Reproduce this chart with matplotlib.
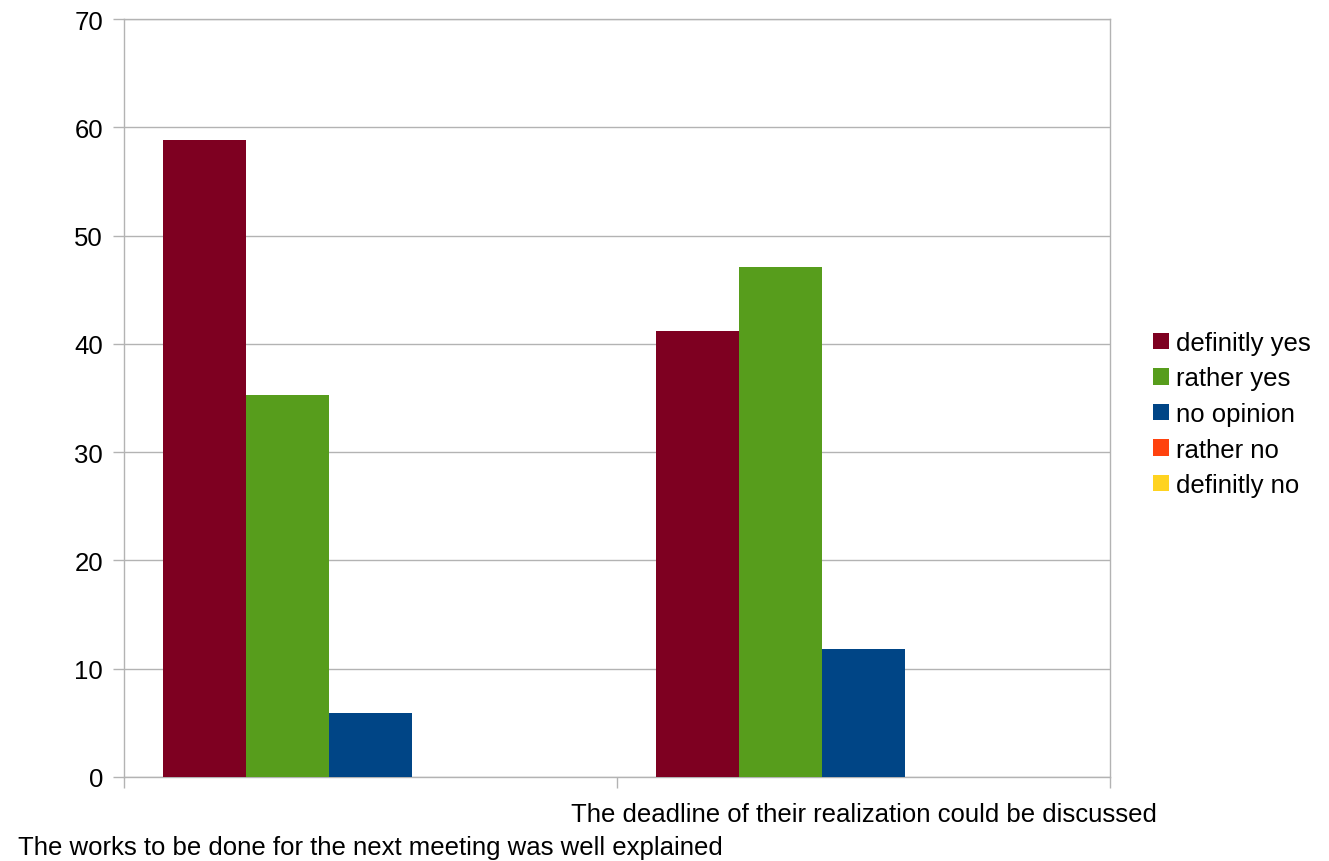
import matplotlib
matplotlib.use("Agg")
import matplotlib.pyplot as plt
import matplotlib.transforms as mtransforms
from matplotlib.patches import Patch
import numpy as np

plt.rcParams['font.family'] = ['Liberation Sans', 'DejaVu Sans']

# Survey answers (percent of respondents)
categories = [
    "The works to be done for the next meeting was well explained",
    "The deadline of their realization could be discussed",
]
series_names = ["definitly yes", "rather yes", "no opinion", "rather no", "definitly no"]
values = {
    "definitly yes": [58.8, 41.2],
    "rather yes": [35.3, 47.1],
    "no opinion": [5.9, 11.8],
    "rather no": [0, 0],
    "definitly no": [0, 0],
}
colors = ["#7E0021", "#579D1C", "#004586", "#FF420E", "#FFD320"]
y_ticks = [0, 10, 20, 30, 40, 50, 60, 70]

fig = plt.figure(figsize=(13.29, 8.62), dpi=100)
ax = fig.add_axes([124 / 1329, 1 - 778 / 862, (1110 - 124) / 1329, (778 - 20) / 862])

x = np.arange(len(categories))
width = 0.168
for i, name in enumerate(series_names):
    ax.bar(x + (i - 2) * width, values[name], width, color=colors[i], zorder=3)

ax.set_xlim(-0.5, len(categories) - 0.5)
ax.set_ylim(0, 70)
ax.set_yticks(y_ticks)
ax.yaxis.grid(True, color="#b3b3b3", lw=1, zorder=0)

grey = "#b3b3b3"
for s in ax.spines.values():
    s.set_color(grey)
    s.set_linewidth(1)

ax.tick_params(axis="y", length=8, width=1, color=grey, labelsize=18.5, pad=7)

# category labels, staggered like the original
ax.set_xticks(x)
ax.set_xticklabels(categories, fontsize=18.5)
ax.tick_params(axis="x", which="major", length=0, pad=18)
ax.set_xticks(np.arange(-0.5, len(categories)), minor=True)
ax.tick_params(axis="x", which="minor", length=8, width=1, color=grey)

# push the first label one row down
lab0 = ax.get_xticklabels()[0]
lab0.set_transform(lab0.get_transform() +
                   mtransforms.ScaledTranslation(0, -0.33, fig.dpi_scale_trans))

handles = [Patch(facecolor=c, edgecolor="none") for c in colors]
fig.legend(handles, series_names, loc="center left",
           bbox_to_anchor=(1143 / 1329, 1 - 415 / 862), frameon=False,
           fontsize=18.5, handlelength=0.6, handleheight=0.6,
           handletextpad=0.3, labelspacing=0.45, borderaxespad=0)

fig.savefig("out.png", dpi=100)
